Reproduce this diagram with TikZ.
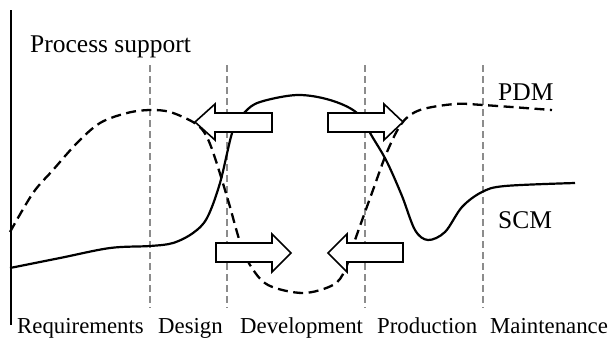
\documentclass[tikz,border=0pt]{standalone}
\usepackage{fontspec}
\setmainfont{Liberation Serif}
\begin{document}
\begin{tikzpicture}[x=1pt,y=-1pt,
  axisline/.style={line width=2pt,black},
  phaseline/.style={line width=1.3pt,color={rgb,255:red,140;green,140;blue,140},dash pattern=on 7pt off 4pt},
  pdmcurve/.style={line width=2.3pt,dash pattern=on 10pt off 5.5pt},
  scmcurve/.style={line width=2.2pt},
  blockarrow/.style={fill=white,draw=black,line width=1.6pt,line join=miter},
  biglabel/.style={inner sep=0pt,anchor=base west,font=\fontsize{25.5}{30}\selectfont},
  phaselabel/.style={inner sep=0pt,anchor=base west,font=\fontsize{22.8}{27}\selectfont}]
\useasboundingbox (0,0) rectangle (610,338);

% vertical axis
\draw[axisline] (11,10) -- (11,325);

% phase boundaries
\foreach \px in {150,227,365,483}
  \draw[phaseline] (\px,65) -- (\px,308);

% SCM curve
\draw[scmcurve] plot[smooth,tension=0.55] coordinates {
  (10,268) (60,258) (110,248) (150,246) (173,243) (193,233) (207,218)
  (220,183) (233,130) (245,112) (260,102) (297,95) (330,100) (357,113)
  (373,138) (387,162) (402,196) (415,230) (428,240) (445,232) (462,207)
  (482,192) (505,186) (575,183)};

% PDM curve
\draw[pdmcurve] plot[smooth,tension=0.55] coordinates {
  (10,232) (33,193) (53,170) (77,143) (100,123) (127,113) (150,110)
  (170,112) (193,122) (204,132) (213,152) (228,200) (240,242) (250,265)
  (268,285) (303,293) (333,285) (345,270) (355,240) (373,190) (387,152)
  (402,123) (420,110) (455,104) (483,105) (552,110)};

% transfer arrows
\draw[blockarrow] (272,113) -- (215,113) -- (215,104) -- (195,122)
  -- (215,140) -- (215,132) -- (272,132) -- cycle;
\draw[blockarrow] (328,113) -- (384,113) -- (384,104) -- (403,122)
  -- (384,140) -- (384,132) -- (328,132) -- cycle;
\draw[blockarrow] (216,243) -- (272,243) -- (272,234) -- (291,253)
  -- (272,272) -- (272,262) -- (216,262) -- cycle;
\draw[blockarrow] (403,243) -- (347,243) -- (347,234) -- (328,253)
  -- (347,272) -- (347,262) -- (403,262) -- cycle;

% labels
\node[biglabel] (ps) at (30,52) {Process support};
\node[biglabel] (pdm) at (498,100) {PDM};
\node[biglabel] (scm) at (498,228) {SCM};

\node[phaselabel] (req) at (17,333) {Requirements};
\node[phaselabel] (des) at (158,333) {Design};
\node[phaselabel] (dev) at (240,333) {Development};
\node[phaselabel] (pro) at (377,333) {Production};
\node[phaselabel] (mai) at (490,333) {Maintenance};
\end{tikzpicture}
\end{document}
